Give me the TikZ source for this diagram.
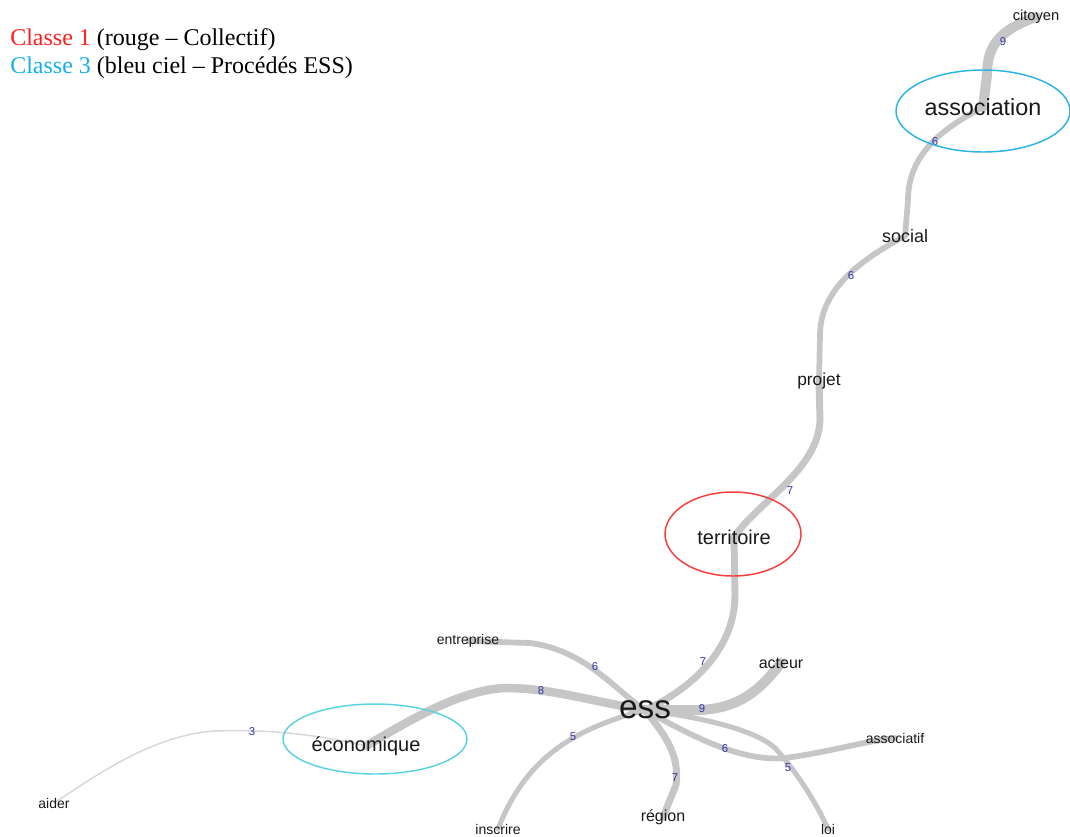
\documentclass[tikz,border=0pt]{standalone}
\usepackage{fontspec}
\setmainfont{Liberation Serif}
\newfontfamily\sansf{Liberation Sans}
\usetikzlibrary{backgrounds}
\definecolor{edgegray}{RGB}{198,198,198}
\definecolor{lightedge}{RGB}{215,215,215}
\definecolor{numblue}{RGB}{50,50,170}
\definecolor{wordgray}{RGB}{25,25,25}
\definecolor{classred}{RGB}{255,30,30}
\definecolor{classblue}{RGB}{20,175,235}
\definecolor{ellred}{RGB}{250,60,60}
\definecolor{ellblue}{RGB}{40,180,230}
\definecolor{ellcyan}{RGB}{90,210,225}
\tikzset{
  word/.style={font=\sansf, text=wordgray, inner sep=0pt},
  num/.style={font=\sansf\fontsize{8.5}{9}\selectfont, text=numblue, inner sep=0pt},
  edge/.style={draw=edgegray, line cap=round, line join=round},
  w9/.style={edge, line width=7.5pt},
  w8/.style={edge, line width=6.4pt},
  w7/.style={edge, line width=5.2pt},
  w6/.style={edge, line width=4.3pt},
  w5/.style={edge, line width=3.8pt},
  w3/.style={draw=lightedge, line cap=round, line width=1.1pt},
  classell/.style={draw, line width=1.1pt},
  legend/.style={anchor=west, inner sep=0pt, font=\fontsize{18}{22}\selectfont}
}
\begin{document}
\begin{tikzpicture}[x=0.75pt,y=-0.75pt]
\useasboundingbox (0,0) rectangle (1070,836);

% legend
\node[legend] (leg1) at (10,40) {\textcolor{classred}{Classe 1} (rouge – Collectif)};
\node[legend] (leg2) at (10,68) {\textcolor{classblue}{Classe 3} (bleu ciel – Procédés ESS)};

% words
\node[word, font=\sansf\fontsize{11}{12}\selectfont] (citoyen) at (1036,17) {citoyen};
\node[word, font=\sansf\fontsize{17.5}{20}\selectfont] (association) at (983,107) {association};
\node[word, font=\sansf\fontsize{13.5}{15}\selectfont] (social) at (905,236) {social};
\node[word, font=\sansf\fontsize{13}{15}\selectfont] (projet) at (819,381) {projet};
\node[word, font=\sansf\fontsize{15}{17}\selectfont] (territoire) at (734,537) {territoire};
\node[word, font=\sansf\fontsize{25}{28}\selectfont] (ess) at (645,710) {ess};
\node[word, font=\sansf\fontsize{12}{14}\selectfont] (acteur) at (781,663) {acteur};
\node[word, font=\sansf\fontsize{10.5}{12}\selectfont] (associatif) at (895,738) {associatif};
\node[word, font=\sansf\fontsize{10.5}{12}\selectfont] (loi) at (828,829) {loi};
\node[word, font=\sansf\fontsize{12}{14}\selectfont] (region) at (663,817) {région};
\node[word, font=\sansf\fontsize{10.5}{12}\selectfont] (inscrire) at (498,829) {inscrire};
\node[word, font=\sansf\fontsize{10.5}{12}\selectfont] (entreprise) at (468,641) {entreprise};
\node[word, font=\sansf\fontsize{15}{17}\selectfont] (economique) at (366,746) {économique};
\node[word, font=\sansf\fontsize{10.5}{12}\selectfont] (aider) at (54,803) {aider};

% edge weights
\node[num] (n1) at (1003,42) {9};
\node[num] (n2) at (935,142) {6};
\node[num] (n3) at (851,276) {6};
\node[num] (n4) at (790,491) {7};
\node[num] (n5) at (703,662) {7};
\node[num] (n6) at (702,709) {9};
\node[num] (n7) at (725,749) {6};
\node[num] (n8) at (788,768) {5};
\node[num] (n9) at (675,778) {7};
\node[num] (n10) at (573,737) {5};
\node[num] (n11) at (595,667) {6};
\node[num] (n12) at (541,691) {8};
\node[num] (n13) at (252,732) {3};

% class ellipses
\draw[classell, ellblue] (983,111) ellipse [x radius=87, y radius=41];
\draw[classell, ellred] (733,534) ellipse [x radius=68, y radius=42];
\draw[classell, ellcyan] (375,739) ellipse [x radius=92, y radius=35];

\begin{scope}[on background layer]
\draw[w9] (citoyen.center) .. controls (1000,30) and (987,45) .. (987,75) -- (association.center);
\draw[w6] (association.center) .. controls (950,125) and (908,150) .. (908,200) -- (social.center);
\draw[w6] (social.center) .. controls (870,255) and (820,285) .. (820,335) -- (projet.center);
\draw[w7] (projet.center) -- (820,420) .. controls (818,470) and (760,500) .. (territoire.center);
\draw[w7] (territoire.center) -- (735,595) .. controls (735,650) and (690,690) .. (ess.center);
\draw[w9] (ess.center) -- (700,710) .. controls (740,708) and (760,690) .. (acteur.center);
\draw[w6] (ess.center) .. controls (690,735) and (740,762) .. (785,758) .. controls (830,752) and (860,742) .. (associatif.center);
\draw[w5] (ess.center) .. controls (705,718) and (755,730) .. (775,748) .. controls (795,770) and (815,800) .. (loi.center);
\draw[w7] (ess.center) .. controls (665,735) and (680,755) .. (676,785) -- (region.center);
\draw[w5] (ess.center) .. controls (570,730) and (525,760) .. (inscrire.center);
\draw[w6] (ess.center) .. controls (615,690) and (585,650) .. (530,643) -- (entreprise.center);
\draw[w8] (ess.center) .. controls (585,700) and (550,688) .. (505,688) .. controls (460,690) and (410,720) .. (economique.center);
\draw[w3] (economique.center) .. controls (320,735) and (270,729) .. (215,731) .. controls (150,735) and (90,780) .. (aider.center);
\end{scope}
\end{tikzpicture}
\end{document}
